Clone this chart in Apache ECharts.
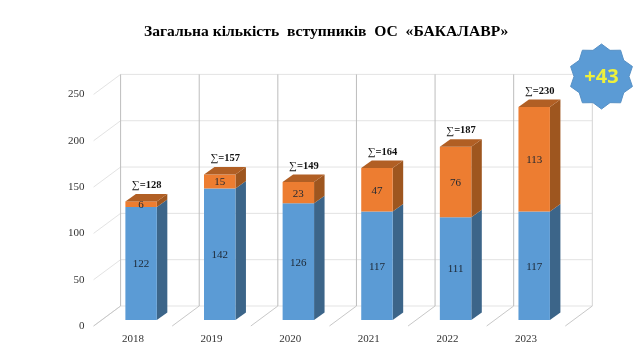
<!DOCTYPE html>
<html><head><meta charset="utf-8">
<style>html,body{margin:0;padding:0;background:#fff}#c{width:640px;height:360px}</style>
<script src="https://cdn.jsdelivr.net/npm/echarts@6/dist/echarts.min.js"></script>
</head><body><div id="c"></div>
<script>
const categories = ['2018','2019','2020','2021','2022','2023'];
const budget = [122,142,126,117,111,117];
const contract = [6,15,23,47,76,113];
const totals = [128,157,149,164,187,230];
const yTicks = [0,50,100,150,200,250];
const titleText = 'Загальна кількість  вступників  ОС  «БАКАЛАВР»';
const badgeText = '+43';

const FONT = '"Liberation Serif","Times New Roman",serif';
const WALL = {x:27, y:-20};     // wall depth
const BAR = {x:8.2, y:-6};      // bar offset from the front plane
const DEPTH = {x:10.5, y:-7.5}; // bar depth

function barItem(front, side, top, drawTop){
  return function(params, api){
    const i = api.value(0), a = api.value(1), b = api.value(2);
    const w = api.size([1,0])[0]*0.4;
    const cx = api.coord([i,0])[0] + BAR.x;
    const y0 = api.coord([i,a])[1] + BAR.y, y1 = api.coord([i,b])[1] + BAR.y;
    const l = cx-w/2, r = cx+w/2, dx = DEPTH.x, dy = DEPTH.y;
    const ch = [
      {type:'polygon',shape:{points:[[r,y0],[r+dx,y0+dy],[r+dx,y1+dy],[r,y1]]},style:{fill:side}},
      {type:'rect',shape:{x:l,y:y1,width:w,height:y0-y1},style:{fill:front}}
    ];
    if(drawTop) ch.push({type:'polygon',shape:{points:[[l,y1],[l+dx,y1+dy],[r+dx,y1+dy],[r,y1]]},style:{fill:top}});
    ch.push({type:'text',style:{text:String(b-a),x:cx,y:(y0+y1)/2+1,align:'center',verticalAlign:'middle',
      font:'11px '+FONT,fill:'#1d2733'}});
    return {type:'group',children:ch};
  };
}
const chart = echarts.init(document.getElementById('c'),null,{renderer:'canvas'});
chart.setOption({
  animation:false,
  backgroundColor:'#ffffff',
  title:{text:titleText,top:24,padding:0,left:144,
    textStyle:{fontFamily:FONT,fontWeight:'bold',fontSize:15.6,color:'#000'}},
  grid:{left:93.6,right:74.7,top:94.4,height:231.6,containLabel:false},
  xAxis:{type:'category',data:categories,axisLine:{show:false},axisTick:{show:false},splitLine:{show:false},
    axisLabel:{fontFamily:FONT,fontSize:11,color:'#333',margin:8}},
  yAxis:{type:'value',min:0,max:250,interval:50,axisLine:{show:false},axisTick:{show:false},splitLine:{show:false},
    axisLabel:{fontFamily:FONT,fontSize:11,color:'#333',margin:9}},
  series:[
    {type:'custom',silent:true,clip:false,z:1,data:yTicks.map(v=>[0,v]),encode:{x:0,y:1},
     renderItem(p,api){
       const cs=p.coordSys, y=api.coord([0,api.value(1)])[1], x=cs.x;
       const ls={stroke:'#e3e3e3',lineWidth:1};
       return {type:'group',children:[
         {type:'line',shape:{x1:x,y1:y,x2:x+WALL.x,y2:y+WALL.y},style:ls},
         {type:'line',shape:{x1:x+WALL.x,y1:y+WALL.y,x2:x+WALL.x+cs.width,y2:y+WALL.y},style:ls}
       ]};
     }},
    {type:'custom',silent:true,clip:false,z:1,data:categories.concat(['']).map((c,i)=>[i]),encode:{x:0},
     renderItem(p,api){
       const cs=p.coordSys, i=api.value(0), x=cs.x+i*cs.width/categories.length, b=cs.y+cs.height;
       const st={stroke:i===categories.length?'#d4d4d4':'#bdbdbd',lineWidth:1};
       return {type:'group',children:[
         {type:'line',shape:{x1:x,y1:b,x2:x+WALL.x,y2:b+WALL.y},style:{stroke:'#c8c8c8',lineWidth:1}},
         {type:'line',shape:{x1:x+WALL.x,y1:b+WALL.y,x2:x+WALL.x,y2:cs.y+WALL.y},style:st}
       ]};
     }},
    {type:'custom',name:'Бюджет',silent:true,clip:false,z:2,
     data:budget.map((v,i)=>[i,0,v]),encode:{x:0,y:2},
     renderItem:barItem('#5b9bd5','#3c6589',null,false)},
    {type:'custom',name:'Контракт',silent:true,clip:false,z:3,
     data:contract.map((v,i)=>[i,budget[i],budget[i]+v]),encode:{x:0,y:2},
     renderItem:barItem('#ed7d31','#9e561f','#b15f24',true)},
    {type:'custom',name:'Сума',silent:true,clip:false,z:4,
     data:totals.map((v,i)=>[i,v]),encode:{x:0,y:1},
     renderItem(p,api){
       const c=api.coord([api.value(0),api.value(1)]);
       return {type:'text',style:{
         text:'{s|∑}{b|='+api.value(1)+'}',
         x:c[0]+BAR.x+5.5,y:c[1]+BAR.y+DEPTH.y-8.5,align:'center',verticalAlign:'middle',
         rich:{s:{font:'11px '+FONT,fill:'#111'},b:{font:'bold 10.5px '+FONT,fill:'#111'}}
       }};
     }}
  ],
  graphic:[
    {type:'polygon',z:10,shape:{points:(function(){
       const n=10,pts=[],cx=601.5,cy=76.5,R=32.5,r=27.5;
       for(let i=0;i<2*n;i++){const a=-Math.PI/2+i*Math.PI/n,q=i%2?r:R;pts.push([cx+q*Math.cos(a),cy+q*Math.sin(a)]);}
       return pts;})()},style:{fill:'#5b9bd5',stroke:'#5791c6',lineWidth:1}},
    {type:'text',z:11,style:{text:badgeText,x:601.5,y:77,align:'center',verticalAlign:'middle',
       font:'bold 20px "Open Sans","Liberation Sans",Arial,sans-serif',fill:'#eef03c'}}
  ]
});
</script></body></html>
